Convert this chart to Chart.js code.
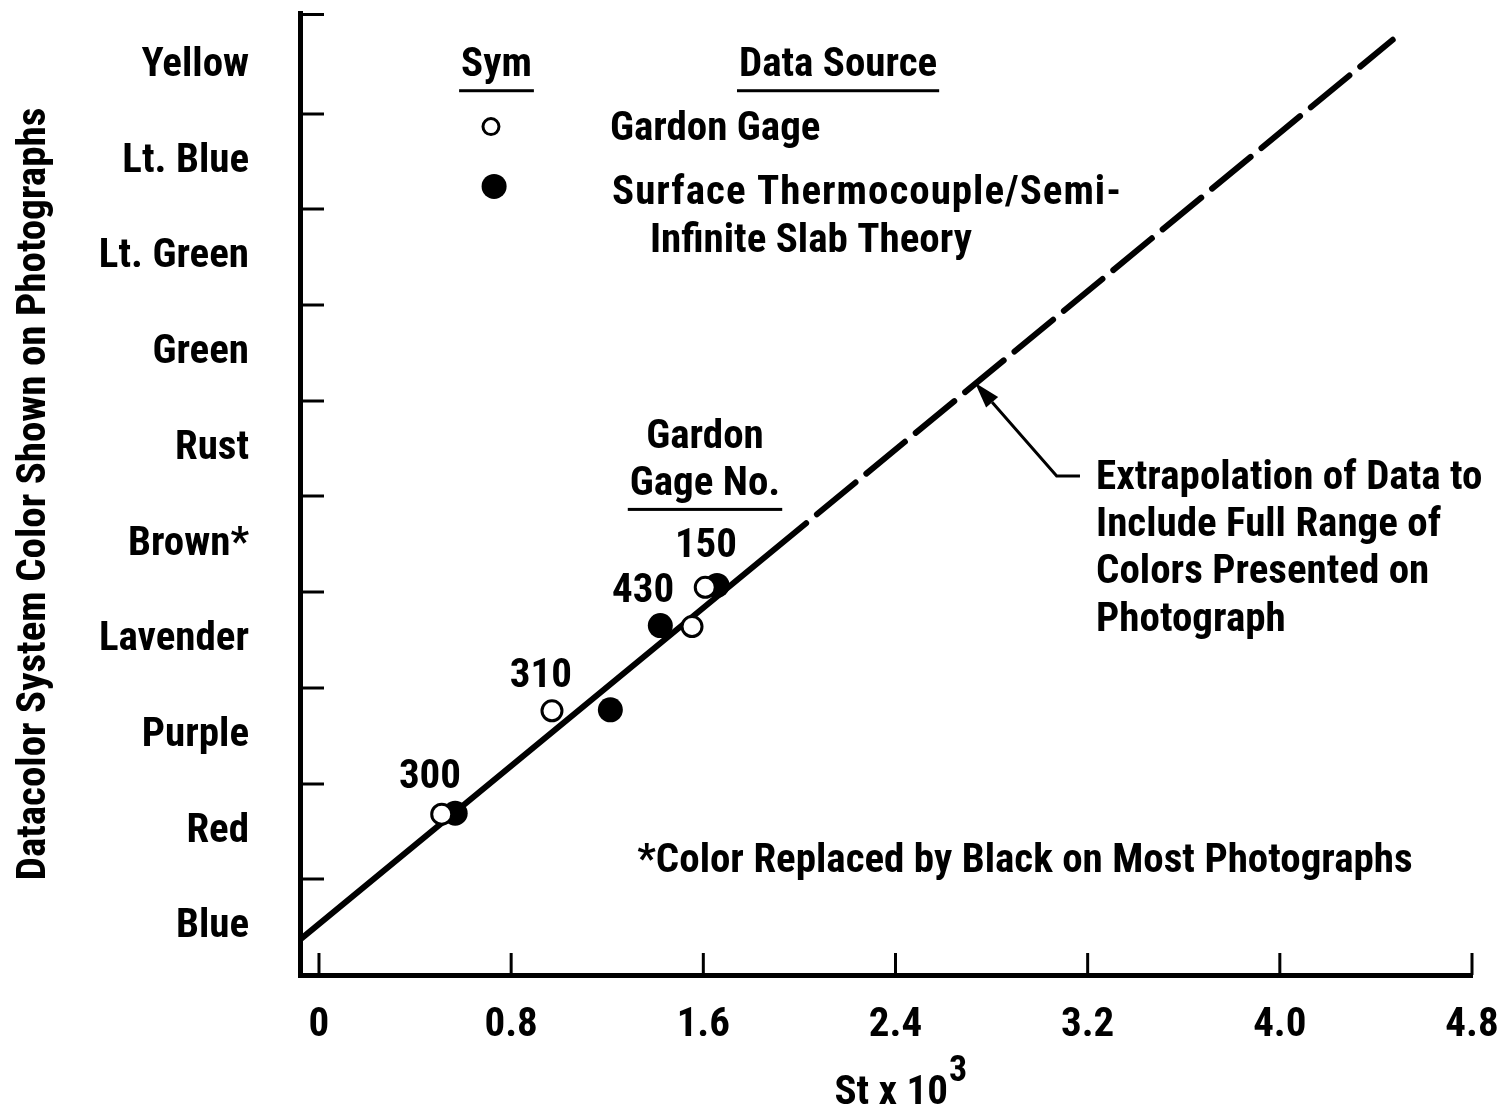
<!DOCTYPE html>
<html><head><meta charset="utf-8">
<script src="https://cdn.jsdelivr.net/npm/chart.js@4.4.0/dist/chart.umd.min.js"></script>
<style>html,body{margin:0;padding:0;background:#fff}#wrap{width:1511px;height:1115px;position:relative}</style>
</head><body><div id="wrap"><canvas id="c"></canvas></div>
<script>
// ---------- data ----------
const colorCategories = ['Blue','Red','Purple','Lavender','Brown*','Rust','Green','Lt. Green','Lt. Blue','Yellow'];
const xTickValues = [0, 0.8, 1.6, 2.4, 3.2, 4.0, 4.8];
const xTickLabels = ['0', '0.8', '1.6', '2.4', '3.2', '4.0', '4.8'];
const yTickMarks = [1, 2, 3, 4, 5, 6, 7, 8, 9];
const gardonX = [0.511, 0.970, 1.553, 1.608];
const gardonY = [1.68, 2.76, 3.64, 4.05];
const thermoX = [0.567, 1.213, 1.421, 1.657];
const thermoY = [1.69, 2.77, 3.65, 4.07];
const gageNumbers = ['300', '310', '430', '150'];
const fitSolidX = [-0.079, 2.028];
const fitSolidY = [0.37, 4.72];
const fitDashX = [2.028, 4.47];
const fitDashY = [4.72, 9.77];

// ---------- annotation layout (data units) ----------
const gageLabelX = [0.462, 0.924, 1.349, 1.611];
const gageLabelY = [2.065, 3.118, 4.004, 4.473];
const notes = [
  {text:'Sym', x:0.739, y:9.494, align:'center', underline:true},
  {text:'Data Source', x:2.161, y:9.494, align:'center', underline:true},
  {text:'Gardon Gage', x:1.2115, y:8.832, align:'left'},
  {text:'Surface Thermocouple/Semi-', x:1.220, y:8.165, align:'left', spacing:1},
  {text:'Infinite Slab Theory', x:1.378, y:7.664, align:'left'},
  {text:'Gardon', x:1.607, y:5.610, align:'center'},
  {text:'Gage No.', x:1.607, y:5.120, align:'center', underline:true},
  {text:'Extrapolation of Data to', x:3.235, y:5.182, align:'left'},
  {text:'Include Full Range of', x:3.235, y:4.692, align:'left'},
  {text:'Colors Presented on', x:3.235, y:4.202, align:'left'},
  {text:'Photograph', x:3.235, y:3.702, align:'left'},
  {text:'*Color Replaced by Black on Most Photographs', x:2.939, y:1.178, align:'center'}
];
const legendOpen = {x:0.716, y:8.863};
const legendFilled = {x:0.729, y:8.238};
const leader = {tipX:2.731, tipY:6.187, elbowX:3.071, elbowY:5.214, endX:3.168};
const xTitleMain = 'St x 10', xTitleSup = '3';

const FAM = "'Roboto Condensed', 'Open Sans Condensed', sans-serif";
const FONT = {family: FAM, size: 41, weight: 'bold'};
Chart.defaults.font.family = FAM;
Chart.defaults.color = '#000';

const pts = (xs, ys) => xs.map((v, i) => ({x: v, y: ys[i]}));

const overlay = {
  id: 'overlay',
  afterDraw(chart) {
    const {ctx, chartArea: ca, scales: {x, y}} = chart;
    ctx.save();
    ctx.strokeStyle = '#000'; ctx.fillStyle = '#000';
    // inward tick marks
    ctx.lineWidth = 3;
    [...yTickMarks, y.max].forEach(v => {
      const py = Math.round(y.getPixelForValue(v)) + (v === y.max ? 1.5 : 0);
      ctx.beginPath(); ctx.moveTo(ca.left, py); ctx.lineTo(ca.left + 24, py); ctx.stroke();
    });
    xTickValues.forEach(v => {
      const px = x.getPixelForValue(v);
      ctx.beginPath(); ctx.moveTo(px, ca.bottom); ctx.lineTo(px, ca.bottom - 22); ctx.stroke();
    });
    // text notes
    ctx.font = `bold ${FONT.size}px ${FAM}`;
    ctx.textBaseline = 'middle';
    notes.forEach(n => {
      const px = x.getPixelForValue(n.x), py = y.getPixelForValue(n.y);
      ctx.letterSpacing = (n.spacing || 0) + 'px';
      ctx.textAlign = n.align;
      ctx.fillText(n.text, px, py);
      if (n.underline) {
        const w = ctx.measureText(n.text).width;
        const x0 = n.align === 'center' ? px - w / 2 : px;
        ctx.fillRect(x0 - 2, py + 23, w + 4, 3);
      }
    });
    ctx.letterSpacing = '0px';
    // gage numbers
    ctx.textAlign = 'center';
    gageNumbers.forEach((t, i) => ctx.fillText(t, x.getPixelForValue(gageLabelX[i]), y.getPixelForValue(gageLabelY[i])));
    // legend symbols
    ctx.lineWidth = 3;
    ctx.beginPath();
    ctx.arc(x.getPixelForValue(legendOpen.x), y.getPixelForValue(legendOpen.y), 8, 0, Math.PI * 2);
    ctx.stroke();
    ctx.beginPath();
    ctx.arc(x.getPixelForValue(legendFilled.x), y.getPixelForValue(legendFilled.y), 12.5, 0, Math.PI * 2);
    ctx.fill();
    // leader line with arrow
    const tx = x.getPixelForValue(leader.tipX), ty = y.getPixelForValue(leader.tipY);
    const ex = x.getPixelForValue(leader.elbowX), ey = y.getPixelForValue(leader.elbowY);
    const hx = x.getPixelForValue(leader.endX);
    ctx.lineWidth = 3;
    const ang = Math.atan2(ey - ty, ex - tx);
    const bx = tx + Math.cos(ang) * 26, by = ty + Math.sin(ang) * 26;
    ctx.beginPath(); ctx.moveTo(hx, ey); ctx.lineTo(ex, ey); ctx.lineTo(bx, by); ctx.stroke();
    ctx.beginPath();
    ctx.moveTo(tx, ty);
    ctx.lineTo(bx + Math.cos(ang + Math.PI / 2) * 8, by + Math.sin(ang + Math.PI / 2) * 8);
    ctx.lineTo(bx - Math.cos(ang + Math.PI / 2) * 8, by - Math.sin(ang + Math.PI / 2) * 8);
    ctx.closePath(); ctx.fill();
    // x-axis title with superscript
    ctx.textAlign = 'left';
    ctx.font = `bold 41px ${FAM}`;
    const wMain = ctx.measureText(xTitleMain).width;
    ctx.font = `bold 36px ${FAM}`;
    const wSup = ctx.measureText(xTitleSup).width;
    const cx = x.getPixelForValue(2.42);
    const startX = cx - (wMain + wSup) / 2;
    ctx.font = `bold 41px ${FAM}`;
    ctx.fillText(xTitleMain, startX, 1094);
    ctx.font = `bold 36px ${FAM}`;
    ctx.fillText(xTitleSup, startX + wMain + 1, 1072);
    ctx.restore();
  }
};

new Chart(document.getElementById('c'), {
  type: 'scatter',
  data: {
    datasets: [
      {label: 'Gardon Gage', data: pts(gardonX, gardonY), pointRadius: 10, pointHoverRadius: 10,
       pointBackgroundColor: '#fff', pointBorderColor: '#000', pointBorderWidth: 3, showLine: false},
      {label: 'Surface Thermocouple/Semi-Infinite Slab Theory', data: pts(thermoX, thermoY), pointRadius: 12.5, pointHoverRadius: 12.5,
       pointBackgroundColor: '#000', pointBorderColor: '#000', pointBorderWidth: 0, showLine: false},
      {label: 'Fit', data: pts(fitSolidX, fitSolidY), showLine: true, pointRadius: 0,
       borderColor: '#000', borderWidth: 6, borderCapStyle: 'round'},
      {label: 'Extrapolation', data: pts(fitDashX, fitDashY), showLine: true, pointRadius: 0,
       borderColor: '#000', borderWidth: 6, borderCapStyle: 'round', borderDash: [50, 14], borderDashOffset: 50}
    ]
  },
  options: {
    responsive: true, maintainAspectRatio: false, animation: false, devicePixelRatio: 1,
    layout: {padding: {top: 11, right: 39, left: 0, bottom: 0}},
    plugins: {legend: {display: false}, tooltip: {enabled: false}},
    scales: {
      x: {
        type: 'linear', min: -0.079, max: 4.8,
        afterBuildTicks: s => { s.ticks = xTickValues.map(v => ({value: v})); },
        afterFit: s => { s.height = 140; s.paddingLeft = 0; s.paddingRight = 0; },
        ticks: {font: FONT, color: '#000', padding: 26, maxRotation: 0, autoSkip: false,
                callback: (v, i) => xTickLabels[i]},
        grid: {display: false, drawTicks: false},
        border: {display: true, color: '#000', width: 5}
      },
      y: {
        type: 'linear', min: 0, max: 10.05,
        afterBuildTicks: s => { s.ticks = colorCategories.map((c, i) => ({value: i + 0.5})); },
        afterFit: s => { s.width = 300; s.paddingTop = 0; s.paddingBottom = 0; },
        ticks: {font: FONT, color: '#000', padding: 51, autoSkip: false,
                callback: v => colorCategories[Math.round(v - 0.5)]},
        grid: {display: false, drawTicks: false},
        border: {display: true, color: '#000', width: 5},
        title: {display: true, text: 'Datacolor System Color Shown on Photographs', font: FONT, color: '#000',
                padding: {top: 10, bottom: 0}}
      }
    }
  },
  plugins: [overlay]
});
</script></body></html>
